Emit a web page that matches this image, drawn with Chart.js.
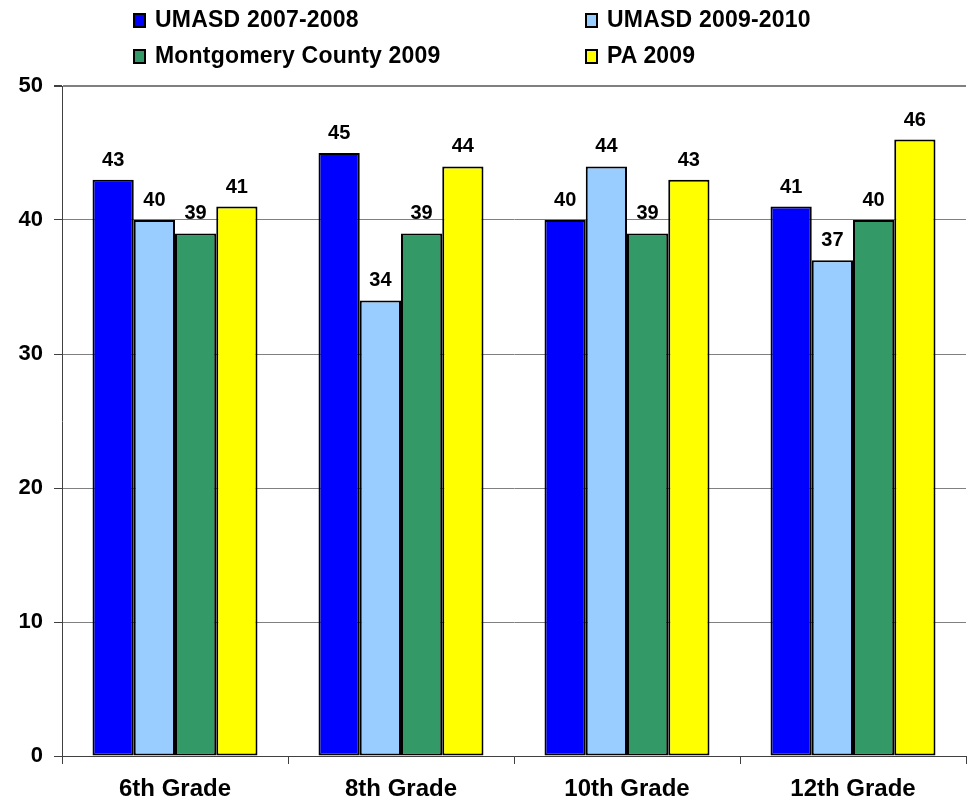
<!DOCTYPE html>
<html>
<head>
<meta charset="utf-8">
<script src="https://cdn.jsdelivr.net/npm/chart.js@4/dist/chart.umd.min.js"></script>
<style>
  html, body { margin: 0; padding: 0; background: #fff; }
  #wrap { position: relative; width: 968px; height: 804px; }
  canvas { position: absolute; left: 0; top: 0; }
  .lg { position: absolute; font: bold 23px "Liberation Sans", Arial, sans-serif; color: #000; white-space: nowrap; line-height: 26px; height: 26px; letter-spacing: 0.2px; }
  .lg i { display: inline-block; width: 9px; height: 11px; border: 2px solid #000; margin-right: 9px; vertical-align: -1px; }
</style>
</head>
<body>
<div id="wrap">
  <canvas id="c" width="968" height="804"></canvas>
  <div id="legend"></div>
</div>
<script>
const categories = ["6th Grade", "8th Grade", "10th Grade", "12th Grade"];
const seriesNames = ["UMASD 2007-2008", "UMASD 2009-2010", "Montgomery County 2009", "PA 2009"];
const umasd0708 = [43, 45, 40, 41];
const umasd0910 = [40, 34, 44, 37];
const montgomery09 = [39, 39, 39, 40];
const pa09 = [41, 44, 43, 46];
const yTicks = [0, 10, 20, 30, 40, 50];
const colors = ["#0000FF", "#99CCFF", "#339966", "#FFFF00"];

const seriesValues = [umasd0708, umasd0910, montgomery09, pa09];
const FONT = '"Liberation Sans", Arial, sans-serif';

// HTML legend in two columns
const legendPos = [[133, 6], [585, 6], [133, 42], [585, 42]];
const legendEl = document.getElementById('legend');
seriesNames.forEach((n, i) => {
  const d = document.createElement('div');
  d.className = 'lg';
  d.style.left = legendPos[i][0] + 'px';
  d.style.top = legendPos[i][1] + 'px';
  d.innerHTML = '<i style="background:' + colors[i] + '"></i>' + n;
  legendEl.appendChild(d);
});

const valueLabels = {
  id: 'valueLabels',
  afterDatasetsDraw(chart) {
    const ctx = chart.ctx;
    ctx.save();
    ctx.font = 'bold 20px ' + FONT;
    ctx.fillStyle = '#000';
    ctx.textAlign = 'center';
    ctx.textBaseline = 'alphabetic';
    chart.data.datasets.forEach((ds, di) => {
      chart.getDatasetMeta(di).data.forEach((el, i) => {
        ctx.fillText(String(ds.data[i]), el.x, el.y - 14);
      });
    });
    ctx.restore();
  }
};

new Chart(document.getElementById('c'), {
  type: 'bar',
  data: {
    labels: categories,
    datasets: seriesNames.map((n, i) => ({
      label: n,
      data: seriesValues[i],
      backgroundColor: colors[i],
      borderColor: '#000',
      borderWidth: 2,
      borderSkipped: false,
      barPercentage: 1,
      categoryPercentage: 0.73
    }))
  },
  options: {
    responsive: false,
    animation: false,
    layout: { padding: { top: 86, right: 2, left: 0, bottom: 0 } },
    plugins: { legend: { display: false }, tooltip: { enabled: false } },
    scales: {
      x: {
        offset: true,
        grid: { offset: true, drawOnChartArea: false, drawTicks: true, tickLength: 8, color: '#404040', lineWidth: 1 },
        border: { display: true, color: '#404040', width: 1 },
        ticks: { color: '#000', font: { family: FONT, size: 24, weight: 'bold' }, padding: 11 },
        afterFit(s) { s.height = 48; }
      },
      y: {
        min: 0, max: 50,
        afterBuildTicks(s) { s.ticks = yTicks.map(v => ({ value: v })); },
        grid: {
          color: '#808080',
          lineWidth: (c) => (c.tick && c.tick.value === 50 ? 2 : 1),
          tickLength: 8,
          tickColor: '#404040'
        },
        border: { display: true, color: '#404040', width: 1 },
        ticks: { color: '#000', font: { family: FONT, size: 22, weight: 'bold' }, padding: 11 },
        afterFit(s) { s.width = 62; }
      }
    }
  },
  plugins: [valueLabels]
});
</script>
</body>
</html>
